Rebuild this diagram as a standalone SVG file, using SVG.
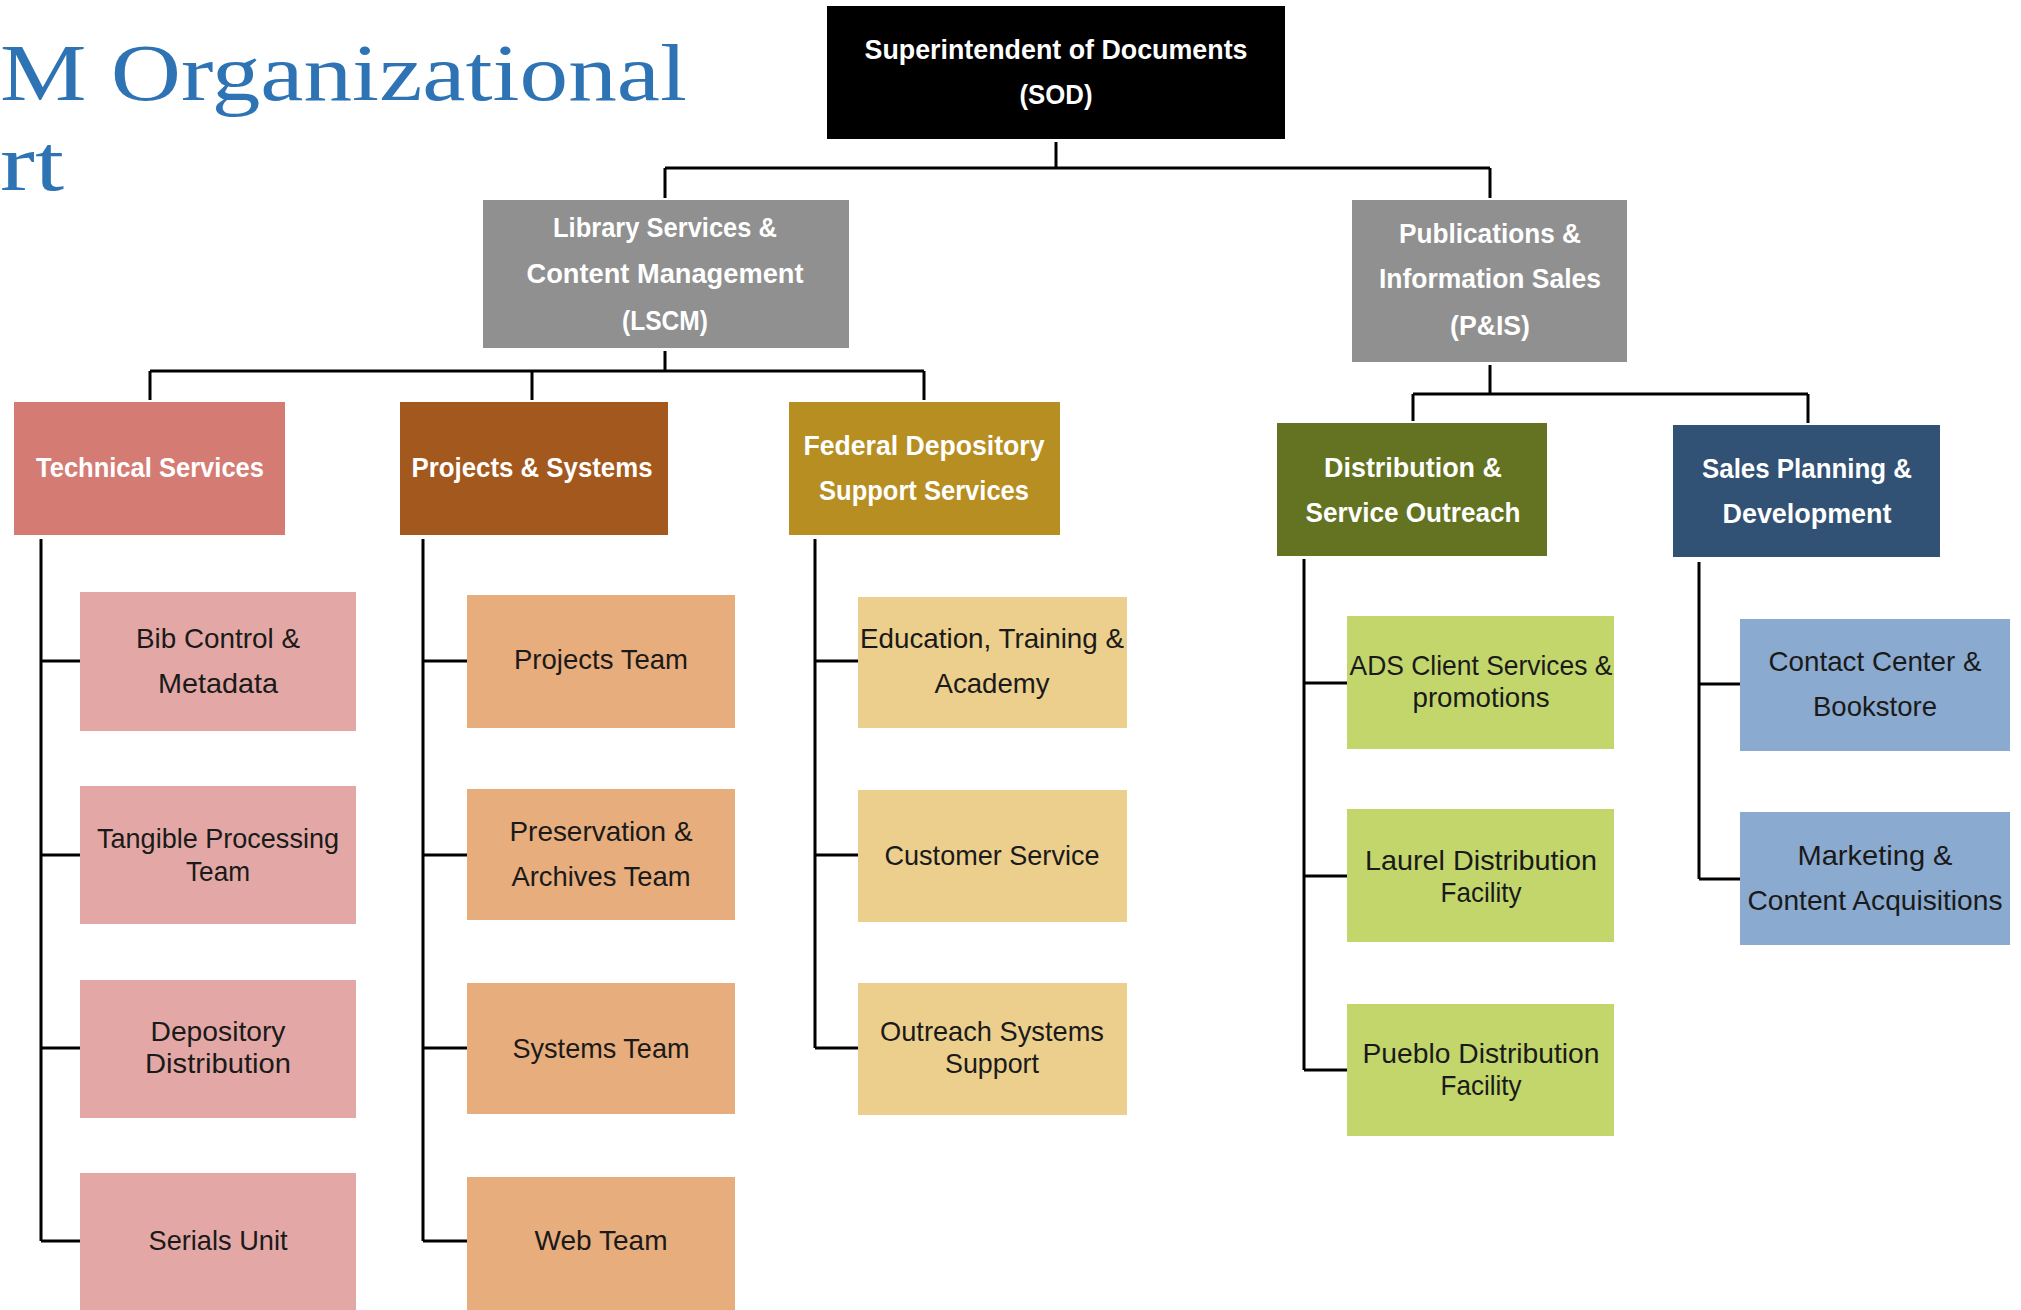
<svg xmlns="http://www.w3.org/2000/svg" width="2021" height="1310" viewBox="0 0 2021 1310">
<style>
.t{font-family:"Liberation Sans",Arial,sans-serif;text-anchor:middle}
.h{font-size:27px;font-weight:bold;fill:#fff}
.s{font-size:28px;fill:#1a1a1a}
.ln{stroke:#000;stroke-width:3;fill:none}
.title{font-family:"Liberation Serif","DejaVu Serif",serif;font-size:80px;fill:#2E74B5}
</style>
<rect width="2021" height="1310" fill="#fff"/>
<g id="title">
<text class="title" x="0" y="100" textLength="687" lengthAdjust="spacingAndGlyphs">M Organizational</text>
<text class="title" x="0" y="190" textLength="64" lengthAdjust="spacingAndGlyphs">rt</text>
</g>
<g id="connectors" class="ln">
<path d="M1056 142V168M665 168H1490M665 168V198M1490 168V198"/>
<path d="M665 351V371M150 371H924M150 371V400M532 371V400M924 371V400"/>
<path d="M1490 365V394M1413 394H1808M1413 394V421M1808 394V423"/>
<path d="M41 539V1241M41 661H80M41 855H80M41 1048H80M41 1241H80"/>
<path d="M423 539V1241M423 661H467M423 855H467M423 1048H467M423 1241H467"/>
<path d="M815 539V1048M815 661H858M815 855H858M815 1048H858"/>
<path d="M1304 559V1070M1304 683H1347M1304 876H1347M1304 1070H1347"/>
<path d="M1699 562V879M1699 684H1740M1699 879H1740"/>
</g>
<g id="sod"><rect x="827" y="6" width="458" height="133" fill="#000"/>
<text class="t h" x="1056" y="59" textLength="383" lengthAdjust="spacingAndGlyphs">Superintendent of Documents</text>
<text class="t h" x="1056" y="104" textLength="73" lengthAdjust="spacingAndGlyphs">(SOD)</text></g>
<g id="lscm"><rect x="483" y="200" width="366" height="148" fill="#909090"/>
<text class="t h" x="665" y="237" textLength="224" lengthAdjust="spacingAndGlyphs">Library Services &amp;</text>
<text class="t h" x="665" y="283" textLength="277" lengthAdjust="spacingAndGlyphs">Content Management</text>
<text class="t h" x="665" y="330" textLength="86" lengthAdjust="spacingAndGlyphs">(LSCM)</text></g>
<g id="pis"><rect x="1352" y="200" width="275" height="162" fill="#909090"/>
<text class="t h" x="1490" y="243" textLength="182" lengthAdjust="spacingAndGlyphs">Publications &amp;</text>
<text class="t h" x="1490" y="288" textLength="222" lengthAdjust="spacingAndGlyphs">Information Sales</text>
<text class="t h" x="1490" y="335" textLength="80" lengthAdjust="spacingAndGlyphs">(P&amp;IS)</text></g>
<g id="tech"><rect x="14" y="402" width="271" height="133" fill="#D47C74"/>
<text class="t h" x="150" y="477" textLength="228" lengthAdjust="spacingAndGlyphs">Technical Services</text></g>
<g id="projsys"><rect x="400" y="402" width="268" height="133" fill="#A3581E"/>
<text class="t h" x="532" y="477" textLength="241" lengthAdjust="spacingAndGlyphs">Projects &amp; Systems</text></g>
<g id="fdss"><rect x="789" y="402" width="271" height="133" fill="#B78E22"/>
<text class="t h" x="924" y="455" textLength="241" lengthAdjust="spacingAndGlyphs">Federal Depository</text>
<text class="t h" x="924" y="500" textLength="210" lengthAdjust="spacingAndGlyphs">Support Services</text></g>
<g id="dso"><rect x="1277" y="423" width="270" height="133" fill="#637321"/>
<text class="t h" x="1413" y="477" textLength="178" lengthAdjust="spacingAndGlyphs">Distribution &amp;</text>
<text class="t h" x="1413" y="522" textLength="215" lengthAdjust="spacingAndGlyphs">Service Outreach</text></g>
<g id="spd"><rect x="1673" y="425" width="267" height="132" fill="#325275"/>
<text class="t h" x="1807" y="478" textLength="210" lengthAdjust="spacingAndGlyphs">Sales Planning &amp;</text>
<text class="t h" x="1807" y="523" textLength="169" lengthAdjust="spacingAndGlyphs">Development</text></g>
<g id="bib"><rect x="80" y="592" width="276" height="139" fill="#E3A8A5"/>
<text class="t s" x="218" y="648" textLength="164" lengthAdjust="spacingAndGlyphs">Bib Control &amp;</text>
<text class="t s" x="218" y="693" textLength="120" lengthAdjust="spacingAndGlyphs">Metadata</text></g>
<g id="tangible"><rect x="80" y="786" width="276" height="138" fill="#E3A8A5"/>
<text class="t s" x="218" y="848" textLength="242" lengthAdjust="spacingAndGlyphs">Tangible Processing</text>
<text class="t s" x="218" y="881" textLength="64" lengthAdjust="spacingAndGlyphs">Team</text></g>
<g id="depdist"><rect x="80" y="980" width="276" height="138" fill="#E3A8A5"/>
<text class="t s" x="218" y="1041" textLength="135" lengthAdjust="spacingAndGlyphs">Depository</text>
<text class="t s" x="218" y="1073" textLength="146" lengthAdjust="spacingAndGlyphs">Distribution</text></g>
<g id="serials"><rect x="80" y="1173" width="276" height="140" fill="#E3A8A5"/>
<text class="t s" x="218" y="1250" textLength="139" lengthAdjust="spacingAndGlyphs">Serials Unit</text></g>
<g id="projteam"><rect x="467" y="595" width="268" height="133" fill="#E8AD7C"/>
<text class="t s" x="601" y="669" textLength="174" lengthAdjust="spacingAndGlyphs">Projects Team</text></g>
<g id="preserv"><rect x="467" y="789" width="268" height="131" fill="#E8AD7C"/>
<text class="t s" x="601" y="841" textLength="183" lengthAdjust="spacingAndGlyphs">Preservation &amp;</text>
<text class="t s" x="601" y="886" textLength="179" lengthAdjust="spacingAndGlyphs">Archives Team</text></g>
<g id="systeam"><rect x="467" y="983" width="268" height="131" fill="#E8AD7C"/>
<text class="t s" x="601" y="1058" textLength="177" lengthAdjust="spacingAndGlyphs">Systems Team</text></g>
<g id="webteam"><rect x="467" y="1177" width="268" height="136" fill="#E8AD7C"/>
<text class="t s" x="601" y="1250" textLength="133" lengthAdjust="spacingAndGlyphs">Web Team</text></g>
<g id="edu"><rect x="858" y="597" width="269" height="131" fill="#ECCF8C"/>
<text class="t s" x="992" y="648" textLength="264" lengthAdjust="spacingAndGlyphs">Education, Training &amp;</text>
<text class="t s" x="992" y="693" textLength="115" lengthAdjust="spacingAndGlyphs">Academy</text></g>
<g id="custsvc"><rect x="858" y="790" width="269" height="132" fill="#ECCF8C"/>
<text class="t s" x="992" y="865" textLength="215" lengthAdjust="spacingAndGlyphs">Customer Service</text></g>
<g id="outreach"><rect x="858" y="983" width="269" height="132" fill="#ECCF8C"/>
<text class="t s" x="992" y="1041" textLength="224" lengthAdjust="spacingAndGlyphs">Outreach Systems</text>
<text class="t s" x="992" y="1073" textLength="94" lengthAdjust="spacingAndGlyphs">Support</text></g>
<g id="ads"><rect x="1347" y="616" width="267" height="133" fill="#C2D66C"/>
<text class="t s" x="1481" y="675" textLength="263" lengthAdjust="spacingAndGlyphs">ADS Client Services &amp;</text>
<text class="t s" x="1481" y="707" textLength="137" lengthAdjust="spacingAndGlyphs">promotions</text></g>
<g id="laurel"><rect x="1347" y="809" width="267" height="133" fill="#C2D66C"/>
<text class="t s" x="1481" y="870" textLength="232" lengthAdjust="spacingAndGlyphs">Laurel Distribution</text>
<text class="t s" x="1481" y="902" textLength="81" lengthAdjust="spacingAndGlyphs">Facility</text></g>
<g id="pueblo"><rect x="1347" y="1004" width="267" height="132" fill="#C2D66C"/>
<text class="t s" x="1481" y="1063" textLength="237" lengthAdjust="spacingAndGlyphs">Pueblo Distribution</text>
<text class="t s" x="1481" y="1095" textLength="81" lengthAdjust="spacingAndGlyphs">Facility</text></g>
<g id="contact"><rect x="1740" y="619" width="270" height="132" fill="#8AAACF"/>
<text class="t s" x="1875" y="671" textLength="213" lengthAdjust="spacingAndGlyphs">Contact Center &amp;</text>
<text class="t s" x="1875" y="716" textLength="124" lengthAdjust="spacingAndGlyphs">Bookstore</text></g>
<g id="marketing"><rect x="1740" y="812" width="270" height="133" fill="#8AAACF"/>
<text class="t s" x="1875" y="865" textLength="155" lengthAdjust="spacingAndGlyphs">Marketing &amp;</text>
<text class="t s" x="1875" y="910" textLength="255" lengthAdjust="spacingAndGlyphs">Content Acquisitions</text></g>
</svg>
